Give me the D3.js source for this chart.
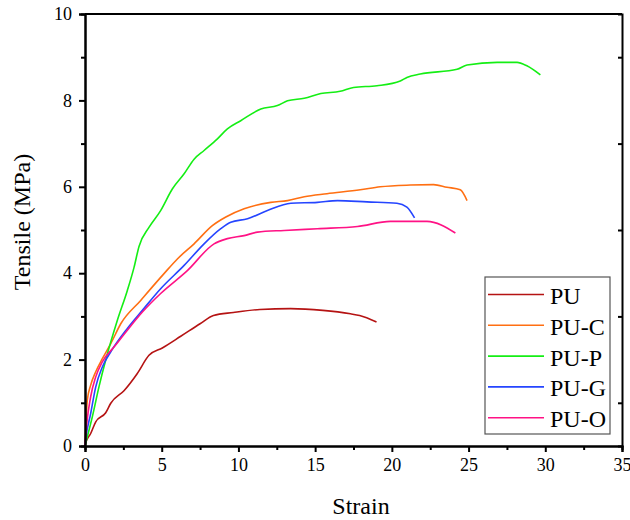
<!DOCTYPE html>
<html>
<head>
<meta charset="utf-8">
<script src="https://cdn.jsdelivr.net/npm/d3@7"></script>
<style>
  body { margin: 0; background: #fff; }
  svg { display: block; font-family: "Liberation Serif", "Times New Roman", serif; }
</style>
</head>
<body>
<div id="chartArea"></div>
<script>
// series names + colours
var seriesNames = ["PU", "PU-C", "PU-P", "PU-G", "PU-O"];
var seriesColors = ["#b51313", "#ff6f12", "#14ee14", "#2545ff", "#ff1285"];

// strain / tensile pairs
var puStrain  = [0, 0.04, 0.37, 0.7, 1.35, 1.68, 2.54, 3.41, 4.17, 5.04, 6.24, 7.5, 8.37, 9.67, 11.4, 13.4, 15.5, 17.3, 17.9, 19.0];
var puStress  = [0, 0.06, 0.29, 0.56, 0.77, 0.99, 1.28, 1.68, 2.10, 2.27, 2.54, 2.83, 3.02, 3.09, 3.16, 3.18, 3.14, 3.06, 3.02, 2.87];

var pucStrain = [0, 0.15, 0.37, 0.7, 1.13, 1.68, 2.33, 3.63, 5.15, 6.02, 7.11, 8.3, 9.18, 10.37, 12.11, 13.2, 14.29, 15.77, 17.94, 19.24, 21.2, 22.72, 23.59, 24.46, 24.9];
var pucStress = [0, 1.06, 1.41, 1.72, 2.02, 2.37, 2.83, 3.37, 3.99, 4.33, 4.68, 5.10, 5.30, 5.49, 5.64, 5.68, 5.77, 5.84, 5.93, 6.00, 6.04, 6.05, 5.99, 5.93, 5.68];

var pupStrain = [0, 0.15, 0.48, 0.91, 1.35, 2.11, 2.76, 3.2, 3.52, 4.17, 4.93, 5.69, 6.46, 7.11, 7.76, 8.63, 9.28, 10.15, 11.46, 12.54, 13.2, 14.29, 15.37, 16.63, 17.5, 19.03, 20.55, 20.98, 21.85, 24.25, 24.9, 26.86, 28.16, 28.8, 29.68];
var pupStress = [0, 0.21, 0.68, 1.37, 1.99, 2.91, 3.60, 4.14, 4.62, 5.06, 5.45, 5.95, 6.30, 6.64, 6.84, 7.11, 7.34, 7.53, 7.80, 7.88, 7.99, 8.05, 8.16, 8.21, 8.30, 8.34, 8.45, 8.53, 8.61, 8.72, 8.82, 8.88, 8.88, 8.80, 8.59];

var pugStrain = [0, 0.04, 0.37, 0.7, 1.13, 1.68, 2.76, 3.74, 4.93, 6.46, 7.76, 8.85, 9.5, 10.59, 11.89, 13.42, 15.15, 16.46, 18.38, 20.33, 20.98, 21.48];
var pugStress = [0, 0.14, 0.75, 1.37, 1.83, 2.18, 2.72, 3.14, 3.64, 4.18, 4.68, 5.03, 5.18, 5.26, 5.45, 5.62, 5.64, 5.68, 5.65, 5.62, 5.53, 5.28];

var puoStrain = [0, 0.04, 0.37, 0.7, 1.13, 1.89, 2.76, 3.74, 4.93, 6.67, 8.41, 9.28, 10.37, 11.24, 12.98, 15.15, 17.76, 19.9, 22.29, 24.14];
var puoStress = [0, 0.21, 1.14, 1.60, 1.95, 2.29, 2.68, 3.10, 3.53, 4.06, 4.68, 4.80, 4.87, 4.95, 4.99, 5.03, 5.08, 5.20, 5.20, 4.93];

var xTicks = [0, 5, 10, 15, 20, 25, 30, 35];
var yTicks = [0, 2, 4, 6, 8, 10];

var allStrain = [puStrain, pucStrain, pupStrain, pugStrain, puoStrain];
var allStress = [puStress, pucStress, pupStress, pugStress, puoStress];

var W = 630, H = 520;
// plot frame edges (window.top is taken, so prefixed names)
var pLeft = 85, pRight = 622, pTop = 14, pBottom = 446;
var serif = "'Liberation Serif', 'Times New Roman', serif";

var svg = d3.select("#chartArea").append("svg")
    .attr("width", W)
    .attr("height", H);

var x = d3.scaleLinear().domain([0, 35]).range([pLeft, pRight]);
var y = d3.scaleLinear().domain([0, 10]).range([pBottom, pTop]);

// curves first so the frame sits on top
var line = d3.line()
    .x(function (d) { return x(d[0]); })
    .y(function (d) { return y(d[1]); })
    .curve(d3.curveMonotoneX);

seriesNames.forEach(function (name, i) {
    var pts = allStrain[i].map(function (s, j) { return [s, allStress[i][j]]; });
    svg.append("path")
        .datum(pts)
        .attr("fill", "none")
        .attr("stroke", seriesColors[i])
        .attr("stroke-width", 1.6)
        .attr("stroke-linejoin", "round")
        .attr("d", line);
});

// bottom axis, outward ticks + minor ticks
svg.append("g")
    .attr("transform", "translate(0," + pBottom + ")")
    .call(d3.axisBottom(x).tickValues(xTicks).tickSize(6).tickPadding(6).tickFormat(d3.format("d")));
svg.append("g")
    .attr("transform", "translate(0," + pBottom + ")")
    .call(d3.axisBottom(x).tickValues(d3.range(2.5, 35, 5)).tickSize(4).tickFormat(""));

// left axis
svg.append("g")
    .attr("transform", "translate(" + pLeft + ",0)")
    .call(d3.axisLeft(y).tickValues(yTicks).tickSize(6).tickPadding(7).tickFormat(d3.format("d")));
svg.append("g")
    .attr("transform", "translate(" + pLeft + ",0)")
    .call(d3.axisLeft(y).tickValues(d3.range(1, 10, 2)).tickSize(4).tickFormat(""));

// right axis, inward ticks at odd values
svg.append("g")
    .attr("transform", "translate(" + pRight + ",0)")
    .call(d3.axisLeft(y).tickValues(d3.range(1, 10, 2)).tickSize(4).tickFormat(""));

// top line
svg.append("line")
    .attr("x1", pLeft).attr("x2", pRight)
    .attr("y1", pTop).attr("y2", pTop)
    .attr("stroke", "#000").attr("stroke-width", 2);

svg.selectAll("g").attr("font-family", serif).attr("font-size", 18);
svg.selectAll(".domain").attr("stroke", "#000").attr("stroke-width", 2);
svg.selectAll(".tick line").attr("stroke", "#000").attr("stroke-width", 2);
svg.selectAll(".tick text")
    .attr("fill", "#000")
    .attr("font-family", serif)
    .style("font-family", serif)
    .style("font-size", "18px");

// axis titles
svg.append("text")
    .attr("x", 361)
    .attr("y", 514)
    .attr("text-anchor", "middle")
    .style("font-family", serif)
    .style("font-size", "24px")
    .text("Strain");

svg.append("text")
    .attr("transform", "translate(30,222) rotate(-90)")
    .attr("text-anchor", "middle")
    .style("font-family", serif)
    .style("font-size", "24px")
    .text("Tensile (MPa)");

// legend
var legend = svg.append("g");
legend.append("rect")
    .attr("x", 485).attr("y", 277)
    .attr("width", 125).attr("height", 157)
    .attr("fill", "#fff")
    .attr("stroke", "#555")
    .attr("stroke-width", 1.2);

seriesNames.forEach(function (name, i) {
    var ly = 294.5 + i * 30.8;
    legend.append("line")
        .attr("x1", 488).attr("x2", 544)
        .attr("y1", ly).attr("y2", ly)
        .attr("stroke", seriesColors[i])
        .attr("stroke-width", 1.6);
    legend.append("text")
        .attr("x", 550).attr("y", ly + 9.5)
        .style("font-family", serif)
        .style("font-size", "24px")
        .text(name);
});
</script>
</body>
</html>
